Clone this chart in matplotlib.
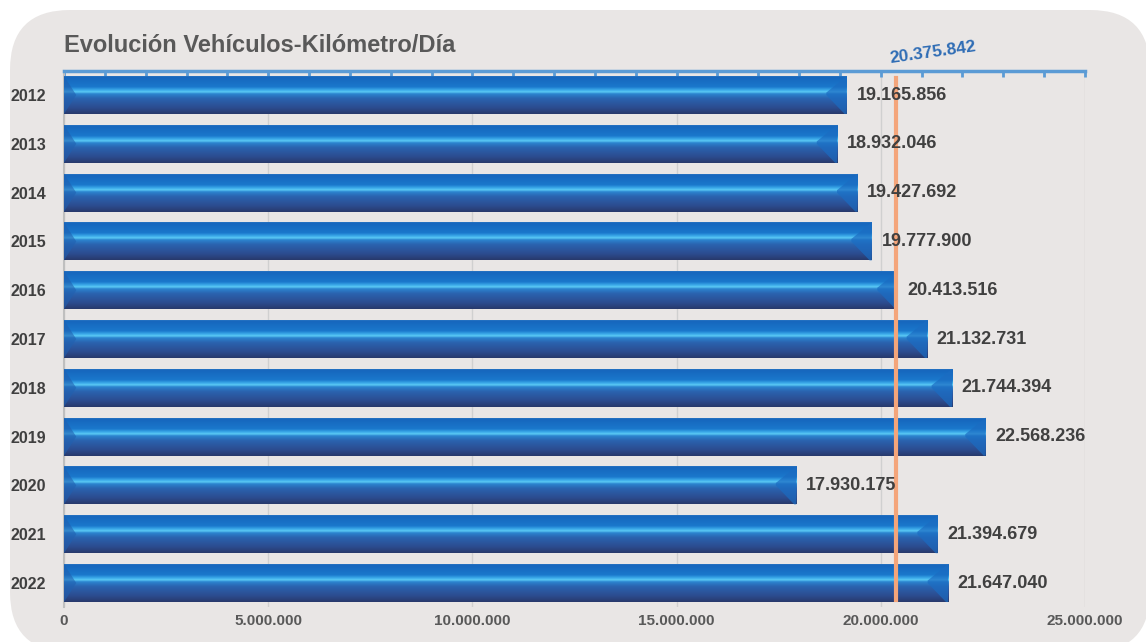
import numpy as np
import matplotlib
matplotlib.use('Agg')
import matplotlib.pyplot as plt
from matplotlib.patches import FancyBboxPatch, Polygon
from matplotlib.colors import LinearSegmentedColormap
from matplotlib.ticker import MultipleLocator, FuncFormatter

plt.rcParams['font.family'] = ['Liberation Sans', 'DejaVu Sans']

# Datos
years = ['2012', '2013', '2014', '2015', '2016', '2017', '2018', '2019', '2020', '2021', '2022']
veh_km = [19165856, 18932046, 19427692, 19777900, 20413516, 21132731,
          21744394, 22568236, 17930175, 21394679, 21647040]
promedio = 20375842

def miles(v, pos=None):
    return f"{int(v):,}".replace(',', '.')

W, H = 1146, 642
fig = plt.figure(figsize=(W / 100, H / 100), dpi=100, facecolor='white')

# Fondo gris redondeado
bg = fig.add_axes([0, 0, 1, 1])
bg.set_xlim(0, W)
bg.set_ylim(H, 0)
bg.axis('off')
bg.add_patch(FancyBboxPatch((10, 10), 1140, 642, boxstyle='round,pad=0,rounding_size=60',
                            facecolor='#E9E6E5', edgecolor='none'))

# Ejes principales
ax = fig.add_axes([64 / W, 1 - 607.4 / H, (1085 - 64) / W, (607.4 - 70.6) / H])
ax.set_facecolor('none')

ypos = np.arange(len(years))
bh = 0.78
bars = ax.barh(ypos, veh_km, height=bh, color='#2A5BA5', zorder=2)

# Degradado de las barras
stops = [(0.00, '#3a7fc8'), (0.05, '#1666bd'), (0.30, '#1a78cc'), (0.38, '#3aa8e8'),
         (0.43, '#5ccaf5'), (0.48, '#2c85d0'), (0.60, '#2a63b0'), (0.85, '#2c4b8e'),
         (1.00, '#283a6c')]
cmap = LinearSegmentedColormap.from_list('barra', stops)
grad = np.linspace(0, 1, 100).reshape(-1, 1)
bev = 0.5e6
for b, y, v in zip(bars, ypos, veh_km):
    top, bot = y - bh / 2, y + bh / 2
    im = ax.imshow(grad, cmap=cmap, aspect='auto', origin='upper',
                   extent=(0, v, bot, top), zorder=3)
    im.set_clip_path(b)
    # biseles en los extremos
    ax.add_patch(Polygon([(v - bev, y - 0.05), (v, top), (v, bot), (v - 0.1 * bev, bot), (v - bev, y)],
                         closed=True, facecolor='#1b6cc2', edgecolor='none', alpha=0.7, zorder=4))
    ax.add_patch(Polygon([(0, top), (0.6 * bev, y), (0, bot)],
                         closed=True, facecolor='#2060b0', edgecolor='none', alpha=0.6, zorder=4))
    ax.annotate(miles(v), xy=(v, y), xytext=(7, 0), textcoords='offset points',
                ha='left', va='center', fontsize=13, fontweight='bold', color='#404040', zorder=6)

# Línea del promedio
ax.plot([promedio, promedio], [-0.35, len(years) - 1 + 0.35], color='#F4A57A', lw=3, zorder=5)
ax.annotate(miles(promedio), xy=(promedio, -0.5), xytext=(26.6, 13.4), textcoords='offset points',
            ha='center', va='center', rotation=8, fontsize=12.5, fontweight='bold',
            color='#2F6DB5', annotation_clip=False)

ax.set_xlim(0, 25000000)
ax.set_ylim(len(years) - 0.5, -0.5)
ax.set_yticks(ypos)
ax.set_yticklabels(years, fontsize=11.5, fontweight='bold', color='#404040')
ax.xaxis.set_major_locator(MultipleLocator(5000000))
ax.xaxis.set_minor_locator(MultipleLocator(1000000))
ax.xaxis.set_major_formatter(FuncFormatter(miles))
for lab in ax.get_xticklabels():
    lab.set_fontweight('bold')
ax.tick_params(axis='x', which='both', bottom=False, top=True, direction='in',
               length=4, width=2, color='#5B9BD5', labelsize=11, labelcolor='#595959', pad=5)
ax.tick_params(axis='y', length=0, pad=13)
ax.grid(axis='x', color='#D0D0D0', lw=1, zorder=0)
ax.set_axisbelow(True)

ax.spines['top'].set_color('#5B9BD5')
ax.spines['top'].set_linewidth(2.5)
ax.spines['left'].set_color('#BFBFBF')
ax.spines['left'].set_linewidth(1.5)
ax.spines['right'].set_visible(False)
ax.spines['bottom'].set_visible(False)

fig.text(64 / W, 1 - 45 / H, 'Evolución Vehículos-Kilómetro/Día', ha='left', va='center',
         fontsize=17, fontweight='bold', color='#595959')

fig.savefig('out.png', dpi=100, facecolor='white')
